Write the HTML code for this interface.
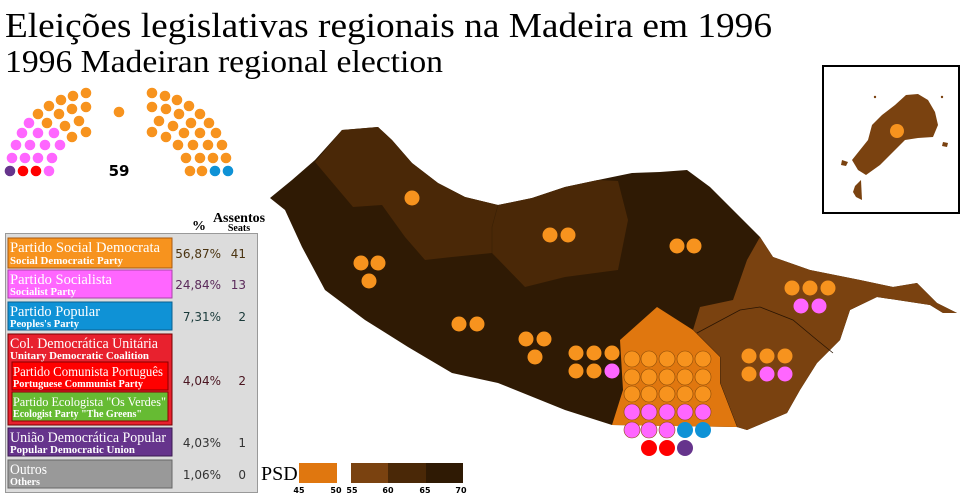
<!DOCTYPE html>
<html><head><meta charset="utf-8"><style>
html,body{margin:0;padding:0;background:#fff;}
svg{display:block;}
.t{font-family:"Liberation Serif",serif;fill:#fff;}
.s{font-family:"Liberation Serif",serif;fill:#fff;font-weight:bold;}
.n{font-family:"DejaVu Sans","Liberation Sans",sans-serif;font-size:12px;text-anchor:end;}
</style></head><body>
<svg width="960" height="502" viewBox="0 0 960 502" xmlns="http://www.w3.org/2000/svg">
<text x="5" y="37" font-family="Liberation Serif,serif" font-size="35" textLength="767" lengthAdjust="spacingAndGlyphs">Eleições legislativas regionais na Madeira em 1996</text>
<text x="5" y="72" font-family="Liberation Serif,serif" font-size="32" textLength="438" lengthAdjust="spacingAndGlyphs">1996 Madeiran regional election</text>

<!-- island -->
<polygon fill="#2f1a04" points="270,198 292,180 315,160 342,130 378,127 392,140 412,163 438,183 465,197 498,205 532,198 565,187 598,180 632,173 660,172 687,170 710,187 733,210 760,237 773,257 810,270 860,280 893,287 917,283 937,303 957,313 943,313 930,305 877,297 850,310 840,340 817,363 800,390 787,413 747,430 737,427 612,425 565,410 498,383 452,373 408,347 365,320 325,290 302,247 285,210"/>
<polygon fill="#4a2807" points="315,162 342,130 378,127 392,140 412,163 438,183 465,197 498,205 532,198 565,187 598,180 618,181 628,220 618,270 565,277 525,287 492,253 452,257 425,260 405,237 382,205 353,207"/>
<polyline fill="none" stroke="#3a2005" stroke-width="0.6" points="498,205 492,227 492,253"/>
<polygon fill="#7a4210" points="760,237 773,257 810,270 860,280 893,287 917,283 937,303 957,313 943,313 930,305 877,297 850,310 840,340 817,363 800,390 787,413 747,430 737,427 720,383 720,357 693,330 700,307 733,300 747,260"/>
<polyline fill="none" stroke="#2a1503" stroke-width="0.8" points="697,333 740,310 760,307 793,320 817,340 833,353"/>
<polyline fill="none" stroke="#2a1503" stroke-width="0.8" points="693,330 720,357 720,383 737,427"/>
<polygon fill="#e0770f" points="657,307 693,330 720,357 720,383 737,427 612,425 623,390 620,340"/>

<!-- inset -->
<rect x="823" y="66" width="136" height="147" fill="#fff" stroke="#000" stroke-width="2"/>
<polygon fill="#7a4210" points="852,160 860,150 868,140 872,125 882,115 895,105 906,95 918,94 928,100 935,112 938,125 933,137 918,138 905,140 893,152 880,165 866,175 858,170"/>
<polygon fill="#7a4210" points="855,186 861,180 862,200 856,197 853,192"/>
<polygon fill="#7a4210" points="842,160 848,162 846,166 841,165"/>
<polygon fill="#7a4210" points="943,142 948,143 947,147 942,146"/>
<circle cx="875" cy="97" r="1.2" fill="#7a4210"/><circle cx="942" cy="97" r="1.2" fill="#7a4210"/>
<circle cx="897" cy="131" r="7" fill="#f7931e"/>

<g fill="#f7931e">
<circle cx="412" cy="198" r="7.5"/>
<circle cx="550" cy="235" r="7.5"/><circle cx="568" cy="235" r="7.5"/>
<circle cx="677" cy="246" r="7.5"/><circle cx="694" cy="246" r="7.5"/>
<circle cx="361" cy="263" r="7.5"/><circle cx="378" cy="263" r="7.5"/><circle cx="369" cy="281" r="7.5"/>
<circle cx="459" cy="324" r="7.5"/><circle cx="477" cy="324" r="7.5"/>
<circle cx="526" cy="339" r="7.5"/><circle cx="544" cy="339" r="7.5"/><circle cx="535" cy="357" r="7.5"/>
<circle cx="576" cy="353" r="7.5"/><circle cx="594" cy="353" r="7.5"/><circle cx="612" cy="353" r="7.5"/>
<circle cx="576" cy="371" r="7.5"/><circle cx="594" cy="371" r="7.5"/>
<circle cx="792" cy="288" r="7.5"/><circle cx="810" cy="288" r="7.5"/><circle cx="828" cy="288" r="7.5"/>
<circle cx="749" cy="356" r="7.5"/><circle cx="767" cy="356" r="7.5"/><circle cx="785" cy="356" r="7.5"/>
<circle cx="749" cy="374" r="7.5"/>
</g>
<g fill="#ff66ff">
<circle cx="612" cy="371" r="7.5"/>
<circle cx="801" cy="306" r="7.5"/><circle cx="819" cy="306" r="7.5"/>
<circle cx="767" cy="374" r="7.5"/><circle cx="785" cy="374" r="7.5"/>
</g>
<g stroke="#8a4a08" stroke-width="0.6">
<g fill="#f7931e">
<circle cx="632" cy="359" r="8"/><circle cx="649" cy="359" r="8"/><circle cx="667" cy="359" r="8"/><circle cx="685" cy="359" r="8"/><circle cx="703" cy="359" r="8"/>
<circle cx="632" cy="377" r="8"/><circle cx="649" cy="377" r="8"/><circle cx="667" cy="377" r="8"/><circle cx="685" cy="377" r="8"/><circle cx="703" cy="377" r="8"/>
<circle cx="632" cy="394" r="8"/><circle cx="649" cy="394" r="8"/><circle cx="667" cy="394" r="8"/><circle cx="685" cy="394" r="8"/><circle cx="703" cy="394" r="8"/>
</g>
<g fill="#ff66ff">
<circle cx="632" cy="412" r="8"/><circle cx="649" cy="412" r="8"/><circle cx="667" cy="412" r="8"/><circle cx="685" cy="412" r="8"/><circle cx="703" cy="412" r="8"/>
<circle cx="632" cy="430" r="8"/><circle cx="649" cy="430" r="8"/><circle cx="667" cy="430" r="8"/>
</g>
</g>
<circle cx="685" cy="430" r="8" fill="#0f92d6"/><circle cx="703" cy="430" r="8" fill="#0f92d6"/>
<circle cx="649" cy="448" r="8" fill="#ff0000"/><circle cx="667" cy="448" r="8" fill="#ff0000"/>
<circle cx="685" cy="448" r="8" fill="#66348c"/>

<!-- parliament -->
<g>
<circle cx="10" cy="171" r="5.3" fill="#66348c"/><circle cx="23" cy="171" r="5.3" fill="#f00"/><circle cx="36" cy="171" r="5.3" fill="#f00"/><circle cx="49" cy="171" r="5.3" fill="#ff66ff"/>
<g fill="#ff66ff">
<circle cx="12" cy="158" r="5.3"/><circle cx="25" cy="158" r="5.3"/><circle cx="38" cy="158" r="5.3"/><circle cx="52" cy="158" r="5.3"/>
<circle cx="16" cy="145" r="5.3"/><circle cx="30" cy="145" r="5.3"/><circle cx="45" cy="145" r="5.3"/><circle cx="60" cy="145" r="5.3"/>
<circle cx="22" cy="133" r="5.3"/><circle cx="38" cy="133" r="5.3"/><circle cx="54" cy="133" r="5.3"/>
<circle cx="29" cy="123" r="5.3"/>
</g>
<g fill="#f7931e">
<circle cx="72" cy="137" r="5.3"/><circle cx="86" cy="132" r="5.3"/>
<circle cx="47" cy="123" r="5.3"/><circle cx="65" cy="126" r="5.3"/><circle cx="79" cy="121" r="5.3"/>
<circle cx="38" cy="114" r="5.3"/><circle cx="59" cy="114" r="5.3"/><circle cx="72" cy="109" r="5.3"/><circle cx="86" cy="107" r="5.3"/>
<circle cx="49" cy="106" r="5.3"/><circle cx="61" cy="100" r="5.3"/><circle cx="73" cy="96" r="5.3"/><circle cx="86" cy="93" r="5.3"/>
<circle cx="119" cy="112" r="5.3"/>
<circle cx="190" cy="171" r="5.3"/><circle cx="202" cy="171" r="5.3"/>
<circle cx="226" cy="158" r="5.3"/><circle cx="213" cy="158" r="5.3"/><circle cx="200" cy="158" r="5.3"/><circle cx="186" cy="158" r="5.3"/>
<circle cx="222" cy="145" r="5.3"/><circle cx="208" cy="145" r="5.3"/><circle cx="193" cy="145" r="5.3"/><circle cx="178" cy="145" r="5.3"/>
<circle cx="216" cy="133" r="5.3"/><circle cx="200" cy="133" r="5.3"/><circle cx="184" cy="133" r="5.3"/><circle cx="166" cy="137" r="5.3"/><circle cx="152" cy="132" r="5.3"/>
<circle cx="209" cy="123" r="5.3"/><circle cx="191" cy="123" r="5.3"/><circle cx="173" cy="126" r="5.3"/><circle cx="159" cy="121" r="5.3"/>
<circle cx="200" cy="114" r="5.3"/><circle cx="179" cy="114" r="5.3"/><circle cx="166" cy="109" r="5.3"/><circle cx="152" cy="107" r="5.3"/>
<circle cx="189" cy="106" r="5.3"/><circle cx="177" cy="100" r="5.3"/><circle cx="165" cy="96" r="5.3"/><circle cx="152" cy="93" r="5.3"/>
</g>
<circle cx="215" cy="171" r="5.3" fill="#0f92d6"/><circle cx="228" cy="171" r="5.3" fill="#0f92d6"/>
<text x="119" y="176" font-family="DejaVu Sans,sans-serif" font-weight="bold" font-size="15" text-anchor="middle">59</text>
</g>

<!-- legend table -->
<text x="199" y="230" font-family="Liberation Serif,serif" font-weight="bold" font-size="14" text-anchor="middle">%</text>
<text x="239" y="222" font-family="Liberation Serif,serif" font-weight="bold" font-size="14" text-anchor="middle">Assentos</text>
<text x="239" y="231" font-family="Liberation Serif,serif" font-weight="bold" font-size="10" text-anchor="middle">Seats</text>
<rect x="5.5" y="233.5" width="252" height="259" fill="#dcdcdc" stroke="#999"/>

<rect x="8" y="238" width="164" height="30" fill="#f7931e" stroke="#a85a10"/>
<text class="t" x="10" y="252" font-size="15" textLength="150" lengthAdjust="spacingAndGlyphs">Partido Social Democrata</text>
<text class="s" x="10" y="264" font-size="11" textLength="113" lengthAdjust="spacingAndGlyphs">Social Democratic Party</text>
<text class="n" x="221" y="258" fill="#4a3310">56,87%</text><text class="n" x="246" y="258" fill="#4a3310">41</text>

<rect x="8" y="270" width="164" height="28" fill="#ff66ff" stroke="#aa44aa"/>
<text class="t" x="10" y="284" font-size="15" textLength="102" lengthAdjust="spacingAndGlyphs">Partido Socialista</text>
<text class="s" x="10" y="295" font-size="11" textLength="66" lengthAdjust="spacingAndGlyphs">Socialist Party</text>
<text class="n" x="221" y="289" fill="#5a2a5a">24,84%</text><text class="n" x="246" y="289" fill="#5a2a5a">13</text>

<rect x="8" y="302" width="164" height="28" fill="#0f92d6" stroke="#0a6090"/>
<text class="t" x="10" y="316" font-size="15" textLength="90" lengthAdjust="spacingAndGlyphs">Partido Popular</text>
<text class="s" x="10" y="327" font-size="11" textLength="69" lengthAdjust="spacingAndGlyphs">Peoples's Party</text>
<text class="n" x="221" y="321" fill="#1a3a3a">7,31%</text><text class="n" x="246" y="321" fill="#1a3a3a">2</text>

<rect x="8" y="334" width="164" height="91" fill="#e8212e" stroke="#700"/>
<text class="t" x="10" y="348" font-size="15" textLength="148" lengthAdjust="spacingAndGlyphs">Col. Democrática Unitária</text>
<text class="s" x="10" y="359" font-size="11" textLength="139" lengthAdjust="spacingAndGlyphs">Unitary Democratic Coalition</text>
<rect x="12" y="362" width="156" height="28" fill="#ff0000" stroke="#800"/>
<text class="t" x="13" y="376" font-size="14" textLength="150" lengthAdjust="spacingAndGlyphs">Partido Comunista Português</text>
<text class="s" x="13" y="387" font-size="11" textLength="130" lengthAdjust="spacingAndGlyphs">Portuguese Communist Party</text>
<rect x="12" y="392" width="156" height="29" fill="#66bb33" stroke="#800"/>
<text class="t" x="13" y="406" font-size="13" textLength="153" lengthAdjust="spacingAndGlyphs">Partido Ecologista "Os Verdes"</text>
<text class="s" x="13" y="417" font-size="11" textLength="129" lengthAdjust="spacingAndGlyphs">Ecologist Party "The Greens"</text>
<text class="n" x="221" y="385" fill="#4a1520">4,04%</text><text class="n" x="246" y="385" fill="#4a1520">2</text>

<rect x="8" y="428" width="164" height="28" fill="#66348c" stroke="#3a1a50"/>
<text class="t" x="10" y="442" font-size="15" textLength="156" lengthAdjust="spacingAndGlyphs">União Democrática Popular</text>
<text class="s" x="10" y="453" font-size="11" textLength="125" lengthAdjust="spacingAndGlyphs">Popular Democratic Union</text>
<text class="n" x="221" y="447" fill="#333">4,03%</text><text class="n" x="246" y="447" fill="#333">1</text>

<rect x="8" y="460" width="164" height="28" fill="#999" stroke="#666"/>
<text class="t" x="10" y="474" font-size="15" textLength="37" lengthAdjust="spacingAndGlyphs">Outros</text>
<text class="s" x="10" y="485" font-size="11" textLength="30" lengthAdjust="spacingAndGlyphs">Others</text>
<text class="n" x="221" y="479" fill="#333">1,06%</text><text class="n" x="246" y="479" fill="#333">0</text>

<!-- scale -->
<text x="261" y="480" font-family="Liberation Serif,serif" font-size="20">PSD</text>
<rect x="299" y="463" width="38" height="20" fill="#e0770f"/>
<rect x="351" y="463" width="37" height="20" fill="#7a4210"/>
<rect x="388" y="463" width="38" height="20" fill="#4a2807"/>
<rect x="426" y="463" width="37" height="20" fill="#2f1a04"/>
<g font-family="DejaVu Sans,sans-serif" font-size="8" font-weight="bold" text-anchor="middle">
<text x="299" y="493">45</text><text x="336" y="493">50</text><text x="352" y="493">55</text><text x="388" y="493">60</text><text x="425" y="493">65</text><text x="461" y="493">70</text>
</g>
</svg>
</body></html>
